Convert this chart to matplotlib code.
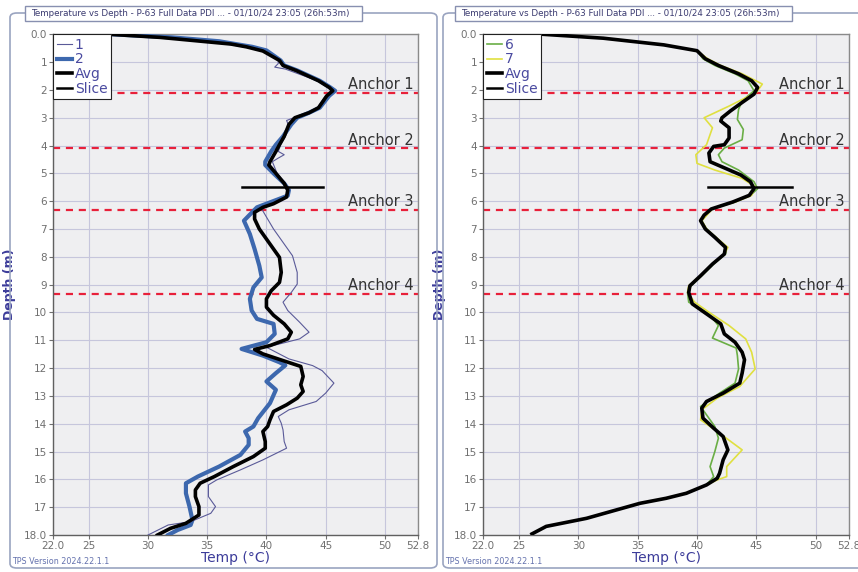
import matplotlib
matplotlib.use("Agg")
import matplotlib.pyplot as plt
from matplotlib.patches import FancyBboxPatch, Rectangle

# ---- left panel: sensors 1, 2 and their average ----
s1_depth = [0.0, 0.11, 0.27, 0.45, 0.58, 0.94, 1.05, 1.18, 1.25, 1.67, 1.91, 2.03, 2.21, 2.64, 2.82,
            3.0, 3.1, 3.3, 3.67, 3.97, 4.21, 4.33, 4.45, 4.58, 5.0, 5.36, 5.6, 5.85, 6.09, 6.28,
            7.0, 7.54, 7.96, 8.56, 8.98, 9.28, 9.63, 9.93, 10.35, 10.71, 10.95, 11.25, 11.67,
            11.91, 12.09, 12.54, 12.9, 13.2, 13.5, 13.74, 13.98, 14.22, 14.64, 14.88, 15.3, 15.66,
            16.02, 16.2, 16.62, 16.98, 17.22, 17.52, 17.64, 18.0]
s1_temp = [26.8, 31.0, 35.2, 38.5, 39.8, 41.0, 41.0, 40.7, 41.6, 44.3, 45.3, 45.6, 45.0, 44.3, 43.5,
           42.3, 41.7, 41.9, 41.6, 41.2, 41.0, 41.5, 41.0, 40.5, 40.9, 41.6, 41.9, 41.7, 40.6, 39.6,
           40.6, 41.5, 42.2, 42.6, 42.6, 42.1, 41.4, 41.8, 42.8, 43.6, 42.8, 40.0, 41.9,
           43.9, 44.7, 45.7, 45.0, 44.2, 41.9, 41.0, 41.25, 41.4, 41.5, 41.7, 39.7, 37.8,
           35.8, 35.1, 35.1, 35.7, 35.3, 33.6, 31.7, 30.0]

s2_depth = [0.0, 0.11, 0.25, 0.45, 0.58, 0.94, 1.12, 1.30, 1.67, 1.91, 2.03, 2.21, 2.64, 2.82, 3.0,
            3.24, 3.67, 3.97, 4.21, 4.58, 4.70, 5.0, 5.36, 5.6, 5.8, 6.22, 6.7, 7.18, 7.72, 8.32,
            8.74, 9.1, 9.51, 9.93, 10.23, 10.41, 10.77, 11.07, 11.31, 11.55, 11.79, 11.9, 12.18,
            12.48, 12.78, 13.26, 13.8, 14.1, 14.28, 14.52, 14.76, 15.12, 15.54, 15.9, 16.14, 16.5,
            16.98, 17.46, 17.64, 17.82, 18.0]
s2_temp = [27.0, 32.0, 36.0, 38.8, 40.0, 41.2, 41.5, 42.6, 44.5, 45.4, 45.8, 45.3, 44.5, 43.6, 42.6,
           42.1, 41.4, 40.8, 40.4, 39.9, 39.9, 40.6, 41.5, 41.9, 41.8, 39.2, 38.1, 38.6, 39.0, 39.4,
           39.6, 38.9, 38.6, 38.75, 39.2, 40.6, 40.7, 40.0, 37.9, 39.7, 41.1, 41.6, 40.8,
           40.0, 40.8, 40.3, 39.3, 38.9, 38.2, 38.5, 38.5, 37.8, 36.0, 34.2, 33.2, 33.2,
           33.5, 33.75, 33.6, 32.5, 31.7]

avg_l_depth = [0.0, 0.11, 0.27, 0.35, 0.45, 0.6, 0.94, 1.12, 1.30, 1.67, 1.91, 2.03, 2.21, 2.64, 2.82,
               3.0, 3.24, 3.67, 3.97, 4.21, 4.58, 4.70, 5.0, 5.36, 5.6, 5.85, 6.09, 6.22, 6.4, 6.64,
               7.0, 7.6, 8.02, 8.56, 8.92, 9.22, 9.51, 9.81, 10.1, 10.41, 10.71, 10.95, 11.19,
               11.33, 11.49, 11.73, 11.94, 12.3, 12.6, 12.84, 13.08, 13.32, 13.56, 13.86, 14.1,
               14.28, 14.64, 14.88, 15.18, 15.54, 15.9, 16.14, 16.38, 16.62, 16.98, 17.28, 17.58,
               17.76, 18.0]
avg_l_temp = [26.8, 31.0, 35.0, 37.0, 38.3, 39.7, 41.1, 41.4, 42.5, 44.4, 45.3, 45.6, 45.1, 44.4, 43.6,
              42.4, 41.9, 41.5, 41.1, 40.8, 40.3, 40.2, 40.8, 41.5, 41.8, 41.7, 40.6, 39.7, 39.0, 39.0,
              39.4, 40.4, 41.1, 41.25, 41.1, 40.4, 40.0, 40.0, 40.6, 41.5, 42.1, 41.8, 40.3,
              39.0, 39.7, 41.4, 42.9, 43.1, 42.9, 43.1, 42.6, 41.7, 40.6, 40.3, 40.1,
              39.7, 39.9, 39.9, 38.9, 37.2, 35.6, 34.4, 34.0, 34.0, 34.3, 34.3, 33.2,
              31.9, 30.8]

slice_l_temp = [37.9, 44.8]

# ---- right panel: sensors 6, 7 and their average ----
s6_depth = [0.0, 0.14, 0.38, 0.59, 0.88, 1.12, 1.42, 1.67, 2.03, 2.39, 2.7, 3.06, 3.42, 3.79, 4.09,
            4.33, 4.58, 4.88, 5.3, 5.55, 5.79, 6.03, 6.28, 6.7, 7.0, 7.3, 7.66, 7.9, 8.26, 8.68,
            9.04, 9.28, 9.63, 10.05, 10.47, 10.92, 11.28, 11.55, 12.03, 12.54, 12.9, 13.38, 13.68,
            14.1, 14.52, 15.0, 15.54, 15.9, 16.2, 16.5, 16.68, 16.86, 17.16, 17.4, 17.69, 17.96]
s6_temp = [27.05, 32.1, 37.2, 40.0, 40.5, 41.5, 43.2, 44.3, 44.8, 43.8, 43.5, 43.4, 43.9, 43.8, 42.3,
           41.8, 42.1, 43.5, 44.8, 45.1, 44.5, 43.2, 41.2, 40.4, 40.8, 41.6, 42.5, 42.4, 41.4, 40.4,
           39.5, 39.2, 39.3, 41.0, 41.8, 41.3, 43.3, 43.4, 43.5, 43.2, 41.9, 40.3, 40.8,
           41.5, 41.8, 41.5, 41.1, 41.4, 40.8, 39.1, 37.4, 35.2, 32.7, 30.7, 27.3, 26.1]

s7_depth = [0.0, 0.14, 0.38, 0.59, 0.88, 1.12, 1.42, 1.79, 2.09, 2.58, 3.0, 3.36, 3.97, 4.33, 4.64,
            4.88, 5.18, 5.48, 5.79, 6.03, 6.28, 6.7, 7.0, 7.3, 7.66, 7.9, 8.26, 8.68, 9.04, 9.28,
            9.63, 9.99, 10.47, 10.95, 11.43, 12.03, 12.66, 13.08, 13.5, 13.86, 14.28, 14.94, 15.54,
            15.9, 16.02, 16.2, 16.5, 16.68, 16.86, 17.16, 17.4, 17.69, 17.96]
s7_temp = [27.05, 32.1, 37.2, 40.0, 40.9, 42.0, 43.8, 45.5, 45.0, 42.7, 40.6, 41.3, 40.8, 39.9, 40.0,
           41.5, 43.8, 44.9, 44.6, 43.2, 41.3, 40.4, 40.8, 41.6, 42.6, 42.3, 41.3, 40.3, 39.3, 39.2,
           39.8, 41.0, 42.7, 44.1, 44.6, 44.9, 43.6, 41.7, 40.4, 40.3, 41.7, 43.8, 42.5,
           42.5, 41.7, 40.8, 39.1, 37.4, 35.2, 32.7, 30.7, 27.3, 26.1]

avg_r_depth = [0.0, 0.14, 0.38, 0.59, 0.88, 1.12, 1.42, 1.67, 1.91, 2.15, 2.45, 2.76, 3.0, 3.12, 3.36,
               3.73, 3.97, 4.03, 4.27, 4.58, 4.82, 5.06, 5.3, 5.55, 5.79, 6.03, 6.28, 6.5, 6.7, 7.0,
               7.3, 7.66, 7.9, 8.26, 8.68, 9.04, 9.28, 9.69, 10.05, 10.41, 10.77, 11.07, 11.43,
               11.7, 12.18, 12.54, 12.9, 13.2, 13.44, 13.8, 14.16, 14.46, 14.94, 15.3, 15.78, 15.96,
               16.2, 16.5, 16.68, 16.86, 17.16, 17.4, 17.69, 17.96]
avg_r_temp = [27.05, 32.1, 37.2, 40.0, 40.7, 41.8, 43.5, 44.6, 45.1, 44.8, 43.8, 42.8, 42.1, 42.0, 42.7,
              42.7, 42.3, 41.4, 41.0, 41.1, 42.4, 43.7, 44.5, 44.8, 44.4, 43.0, 41.2, 40.6, 40.3, 40.7,
              41.5, 42.4, 42.3, 41.3, 40.3, 39.4, 39.3, 39.6, 40.8, 42.0, 42.3, 43.2, 43.8,
              44.0, 43.8, 43.6, 42.2, 40.8, 40.4, 40.5, 41.4, 42.2, 42.6, 42.2, 41.9, 41.7,
              40.8, 39.1, 37.4, 35.2, 32.7, 30.7, 27.3, 26.1]

slice_r_temp = [40.9, 48.0]
slice_depth = 5.5

anchor_names = ["Anchor 1", "Anchor 2", "Anchor 3", "Anchor 4"]
anchor_depths = [2.1, 4.1, 6.3, 9.33]

x_ticks = [22.0, 25, 30, 35, 40, 45, 50, 52.8]
x_labels = ["22.0", "25", "30", "35", "40", "45", "50", "52.8"]
y_ticks = list(range(0, 19))
y_labels = ["0.0"] + [str(v) for v in range(1, 18)] + ["18.0"]

title_text = "Temperature vs Depth - P-63 Full Data PDI ... - 01/10/24 23:05 (26h:53m)"
footer_text = "TPS Version 2024.22.1.1"

W, H = 858, 572
NAVY = "#3c3c9a"
fig = plt.figure(figsize=(W / 100, H / 100), dpi=100)


def fx(px):
    return px / W


def fy(py):
    return 1 - py / H


def frame(x0, x1, tx0, tx1):
    # outer rounded panel border
    fig.patches.append(FancyBboxPatch((fx(x0), fy(568)), fx(x1) - fx(x0), fy(13) - fy(568),
                                      boxstyle="round,pad=0,rounding_size=0.008",
                                      transform=fig.transFigure, fill=False,
                                      edgecolor="#9aa4c0", linewidth=1.2))
    # title box
    fig.patches.append(Rectangle((fx(tx0), fy(21)), fx(tx1) - fx(tx0), fy(6) - fy(21),
                                 transform=fig.transFigure, facecolor="white",
                                 edgecolor="#8890b0", linewidth=1.0, zorder=3))
    fig.text(fx(tx0 + 6), fy(13.5), title_text, fontsize=6.3, color="#3a3a70",
             va="center", ha="left", zorder=4)
    fig.text(fx(x0 + 2), fy(562), footer_text, fontsize=5.8, color="#4a5aa0",
             va="center", ha="left", alpha=0.85)


def setup(ax):
    ax.set_facecolor("#efeff1")
    ax.set_xlim(22.0, 52.8)
    ax.set_ylim(18.0, 0.0)
    ax.set_xticks(x_ticks)
    ax.set_xticklabels(x_labels)
    ax.set_yticks(y_ticks)
    ax.set_yticklabels(y_labels)
    ax.tick_params(labelsize=7.5, labelcolor="#707070", color="#707070", length=3, width=0.8,
                   pad=1.5)
    ax.grid(True, color="#c6c6dc", linewidth=0.8)
    ax.set_axisbelow(True)
    for sp in ax.spines.values():
        sp.set_color("#8a8a8a")
        sp.set_linewidth(1.0)
    ax.spines["left"].set_color("#606060")
    ax.spines["bottom"].set_color("#606060")
    ax.set_xlabel("Temp (°C)", fontsize=10, color=NAVY, labelpad=0)
    ax.set_ylabel("Depth (m)", fontsize=9, color=NAVY, fontweight="bold", labelpad=6)
    for name, d in zip(anchor_names, anchor_depths):
        ax.axhline(d, color="#e8203a", linestyle=(0, (3.2, 2.6)), linewidth=1.6, zorder=2)
        ax.text(52.45, d - 0.13, name, ha="right", va="baseline", fontsize=10.5,
                color="#333333", zorder=6)


def legend(ax):
    leg = ax.legend(loc="upper left", bbox_to_anchor=(0, 1), borderaxespad=0, fontsize=10,
                    handlelength=1.1, handletextpad=0.2, labelspacing=0.05, borderpad=0.25,
                    fancybox=False, framealpha=1, edgecolor="#222222")
    leg.get_frame().set_linewidth(0.8)
    for t in leg.get_texts():
        t.set_color("#4a4aa0")
    leg.set_zorder(10)


frame(10, 437, 25, 362)
frame(443, 870, 455, 792)

axl = fig.add_axes([fx(53.3), fy(535), fx(418) - fx(53.3), fy(34.3) - fy(535)])
setup(axl)
axl.plot(s1_temp, s1_depth, color="#5a5a98", linewidth=0.8, label="1", zorder=4)
axl.plot(s2_temp, s2_depth, color="#3d68ae", linewidth=3.0, label="2", zorder=3)
axl.plot(avg_l_temp, avg_l_depth, color="black", linewidth=2.6, label="Avg", zorder=5)
axl.plot(slice_l_temp, [slice_depth, slice_depth], color="black", linewidth=1.8, label="Slice",
         zorder=5)
legend(axl)

axr = fig.add_axes([fx(483.3), fy(535), fx(849) - fx(483.3), fy(34.3) - fy(535)])
setup(axr)
axr.plot(s6_temp, s6_depth, color="#6aae45", linewidth=1.2, label="6", zorder=3)
axr.plot(s7_temp, s7_depth, color="#e0e040", linewidth=1.2, label="7", zorder=3)
axr.plot(avg_r_temp, avg_r_depth, color="black", linewidth=2.6, label="Avg", zorder=5)
axr.plot(slice_r_temp, [slice_depth, slice_depth], color="black", linewidth=1.8, label="Slice",
         zorder=5)
legend(axr)

fig.savefig("out.png", dpi=100)
